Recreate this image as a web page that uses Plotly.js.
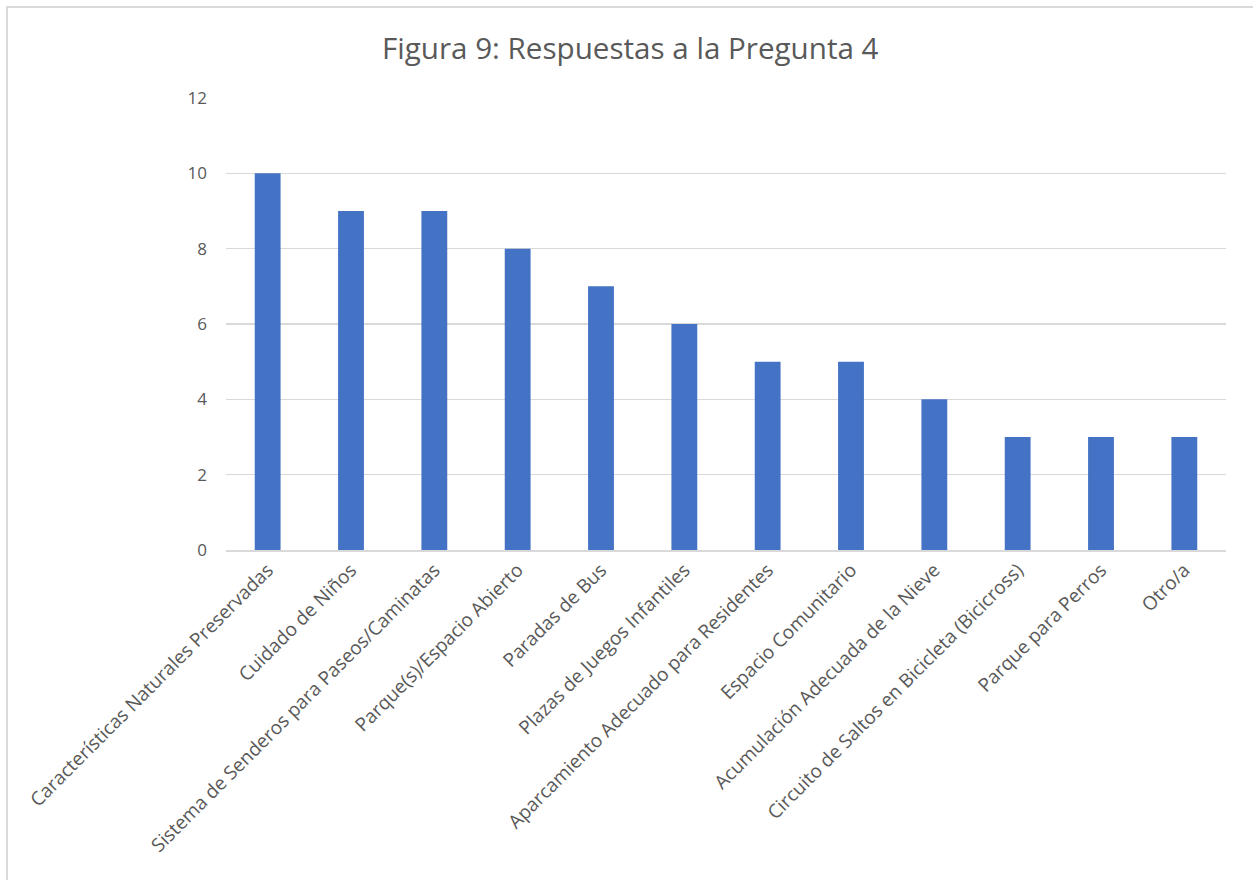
<!DOCTYPE html>
<html>
<head>
<meta charset="utf-8">
<script src="https://cdn.plot.ly/plotly-3.0.1.min.js"></script>
<style>
  html, body { margin: 0; padding: 0; background: #ffffff; }
  #frame {
    position: absolute; left: 6px; top: 6px; width: 1260px; height: 900px;
    border-left: 2px solid #d9d9d9; border-top: 2px solid #d9d9d9;
    pointer-events: none;
  }
  #chart { position: absolute; left: 0; top: 0; width: 1253px; height: 880px; }
</style>
</head>
<body>
<div id="chart"></div>
<div id="frame"></div>
<script>
// Responses to question 4, one bar per answer option
const categories = [
  "Características Naturales Preservadas",
  "Cuidado de Niños",
  "Sistema de Senderos para Paseos/Caminatas",
  "Parque(s)/Espacio Abierto",
  "Paradas de Bus",
  "Plazas de Juegos Infantiles",
  "Aparcamiento Adecuado para Residentes",
  "Espacio Comunitario",
  "Acumulación Adecuada de la Nieve",
  "Circuito de Saltos en Bicicleta (Bicicross)",
  "Parque para Perros",
  "Otro/a"
];
const counts = [10, 9, 9, 8, 7, 6, 5, 5, 4, 3, 3, 3];
const yTicks = [0, 2, 4, 6, 8, 10, 12];

const FONT = "'Open Sans', 'Noto Sans', sans-serif";
const TEXT = "#595959";

const trace = {
  type: "bar",
  x: categories,
  y: counts,
  marker: { color: "#4472c4", line: { width: 0 } },
  hoverinfo: "x+y"
};

const layout = {
  width: 1253,
  height: 880,
  margin: { l: 226, r: 27, t: 98, b: 330 },
  paper_bgcolor: "#ffffff",
  plot_bgcolor: "#ffffff",
  bargap: 0.69,
  showlegend: false,
  title: {
    text: "Figura 9: Respuestas a la Pregunta 4",
    font: { family: FONT, size: 29.6, color: TEXT },
    x: 0.503, xanchor: "center",
    y: 0.945, yanchor: "middle"
  },
  xaxis: {
    type: "category",
    tickangle: -45,
    tickfont: { family: FONT, size: 19, color: TEXT },
    showgrid: false,
    showline: true,
    linecolor: "#d9d9d9",
    linewidth: 1.5,
    ticks: "",
    automargin: false
  },
  yaxis: {
    range: [0, 12],
    tickvals: yTicks,
    ticktext: yTicks.map(String),
    tickfont: { family: FONT, size: 17, color: TEXT },
    showgrid: true,
    gridcolor: "#d9d9d9",
    gridwidth: 1.5,
    zeroline: false,
    showline: false,
    ticks: "",
    ticklabelstandoff: 18,
    automargin: false
  }
};

Plotly.newPlot("chart", [trace], layout, { displayModeBar: false, staticPlot: true });
</script>
</body>
</html>
